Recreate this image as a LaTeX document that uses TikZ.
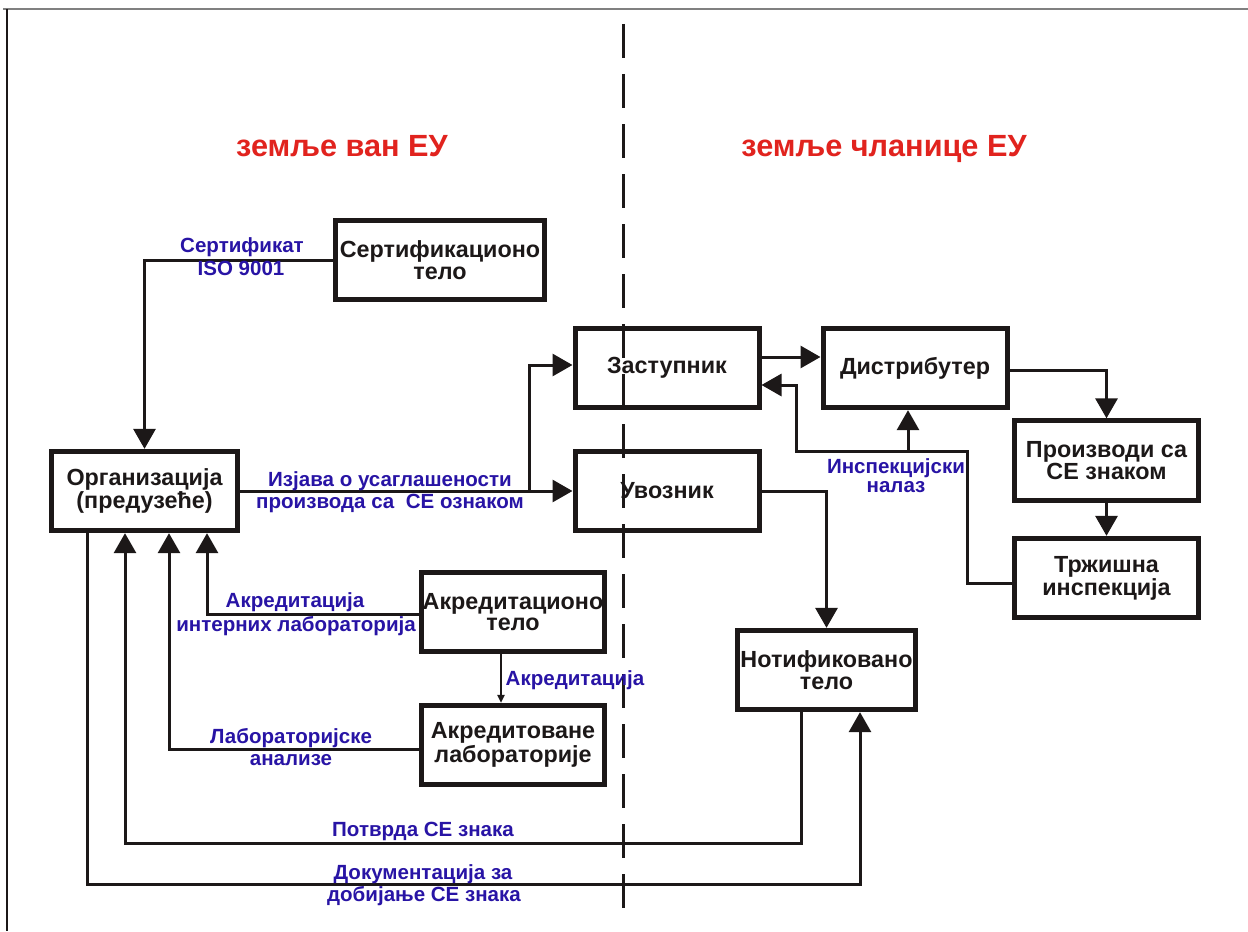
\documentclass[tikz,border=0pt]{standalone}
\usepackage{fontspec}
\setmainfont{Liberation Sans}
\usetikzlibrary{arrows.meta}
\definecolor{ink}{RGB}{28,24,24}
\definecolor{lblue}{RGB}{40,20,165}
\definecolor{tred}{RGB}{225,35,30}
\definecolor{framegray}{RGB}{128,128,128}

\begin{document}
\begin{tikzpicture}[x=0.75pt,y=-0.75pt,
  box/.style={draw=ink, line width=3.75pt, minimum width=138pt, minimum height=59.5pt,
    align=center, inner sep=0pt, text=ink,
    font=\fontsize{17.5}{16.2}\selectfont\bfseries},
  conn/.style={draw=ink, line width=2.25pt},
  arr/.style={conn, -{Triangle[length=15pt,width=16.5pt]}},
  thinarr/.style={draw=ink, line width=1.1pt, -{Triangle[length=6pt,width=5.5pt]}},
  lbl/.style={anchor=base, inner sep=0pt, text=lblue,
    font=\fontsize{15.4}{17}\selectfont\bfseries},
  title/.style={anchor=base, inner sep=0pt, text=tred,
    font=\fontsize{23}{26}\selectfont\bfseries},
]
\useasboundingbox (0,0) rectangle (1248,931);
\fill[white] (0,0) rectangle (1248,931);

% page frame
\draw[framegray, line width=1.5pt] (3,9) -- (1248,9);
\draw[ink, line width=1.1pt] (7,9) -- (7,931);

% border between the two regions
\draw[ink, line width=2.25pt, dash pattern=on 25.5pt off 12pt] (623,24) -- (623,915);

% region titles
\node[title] (tleft)  at (342,156.7) {земље ван ЕУ};
\node[title] (tright) at (884,156.7) {земље чланице ЕУ};

% blocks
\node[box, minimum width=156.75pt] (cert) at (440,260) {Сертификационо\\тело};
\node[box, minimum width=139.5pt] (org) at (144.5,491) {Организација\\(предузеће)};
\node[box] (zast) at (667,368) {Заступник};
\node[box] (uvoz) at (667,491) {Увозник};
\node[box] (dist) at (915,368) {Дистрибутер};
\node[box] (proiz) at (1106.5,460.5) {Производи са\\CE знаком};
\node[box] (trz) at (1106.5,578) {Тржишна\\инспекција};
\node[box, minimum width=137.25pt] (akrT) at (513,612) {Акредитационо\\тело};
\node[box, minimum width=137.25pt] (akrL) at (513,745) {Акредитоване\\лабораторије};
\node[box, minimum width=133.5pt] (notif) at (826.5,670) {Нотификовано\\тело};

% routing points
\coordinate (bend) at (529,491);
\coordinate (ia) at (967,451);
\coordinate (ib) at (796,451);
\coordinate (ic) at (908,451);
\coordinate (x207) at (207,0);
\coordinate (x169) at (169,0);
\coordinate (x125) at (125,0);
\coordinate (x87) at (87,0);
\coordinate (x501) at (501,0);
\coordinate (x801) at (801,0);
\coordinate (x860) at (860,0);
\coordinate (yb1) at (0,843);
\coordinate (yb2) at (0,884);

% connectors
\draw[arr] (cert.west) -| (org.north);
\draw[arr] (org.east) -- (uvoz.west);
\draw[arr] (bend) |- ([yshift=2.25pt]zast.west);
\draw[arr] ([yshift=8.25pt]zast.east) -- ([yshift=8.25pt]dist.west);
\draw[arr] ([yshift=-1.5pt]dist.east) -| (proiz.north);
\draw[arr] (proiz.south) -- (trz.north);
\draw[arr] ([yshift=-3.75pt]trz.west) -| (ia) -- (ib) |- ([yshift=-12.75pt]zast.east);
\draw[arr] (ic) -- (ic |- dist.south);
\draw[arr] (uvoz.east) -| (notif.north);
\draw[arr] ([yshift=-1.5pt]akrT.west) -| (org.south -| x207);
\draw[thinarr] (akrT.south -| x501) -- (akrL.north -| x501);
\draw[arr] ([yshift=-3pt]akrL.west) -| (org.south -| x169);
\draw[arr] (notif.south -| x801) |- (yb1 -| x125) -- (org.south -| x125);
\draw[arr] (org.south -| x87) |- (yb2 -| x860) -- (notif.south -| x860);

% connector labels
\node[lbl] (lcert1) at (242,252) {Сертификат};
\node[lbl] (lcert2) at (241,275) {ISO 9001};
\node[lbl] (lizj1) at (390,486) {Изјава о усаглашености};
\node[lbl] (lizj2) at (390,508) {производа са \ CE ознаком};
\node[lbl] (linsp1) at (896,473) {Инспекцијски};
\node[lbl] (linsp2) at (896,492) {налаз};
\node[lbl] (lakr1) at (295,607) {Акредитација};
\node[lbl] (lakr2) at (296,631) {интерних лабораторија};
\node[lbl] (lakr3) at (575,685) {Акредитација};
\node[lbl] (llab1) at (291,743) {Лабораторијске};
\node[lbl] (llab2) at (291,765) {анализе};
\node[lbl] (lpot) at (423,836) {Потврда CE знака};
\node[lbl] (ldok1) at (423,879) {Документација за};
\node[lbl] (ldok2) at (424,901) {добијање CE знака};
\end{tikzpicture}
\end{document}
